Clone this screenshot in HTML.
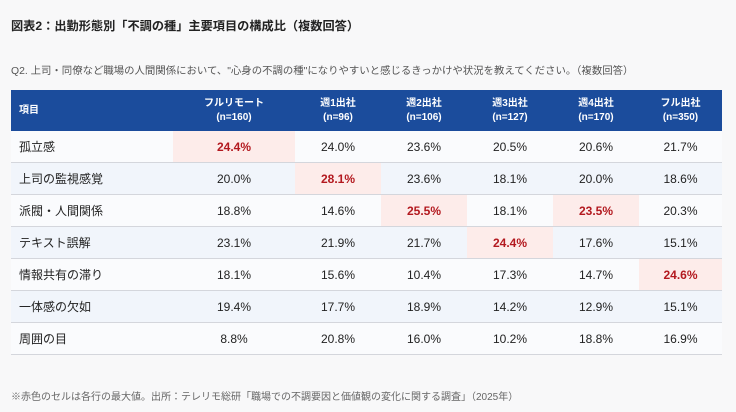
<!DOCTYPE html>
<html><head><meta charset="utf-8">
<style>
body{margin:0;width:736px;height:412px;background:#f8f8f9;font-family:"Liberation Sans","Noto Sans CJK JP",sans-serif;color:#222;overflow:hidden;position:relative}
.title{position:absolute;left:11px;top:16px;font-size:12.2px;font-weight:bold;color:#222}
.q{position:absolute;left:11px;top:62px;font-size:10.4px;color:#555}
table{position:absolute;left:11px;top:90px;border-collapse:collapse;width:711px;table-layout:fixed;font-size:12px}
th{background:#1b4c9c;color:#fff;font-size:10px;font-weight:bold;height:41px;line-height:14px;padding:0}
th.item{text-align:left;padding-left:8px}
td{height:31px;border-bottom:1px solid #d4d6dc;text-align:center;padding:0}
td.item{text-align:left;padding-left:8px}
tr:nth-child(odd) td{background:#fafbfd}
tr:nth-child(even) td{background:#f1f5fb}
td.max{background:#fdecea !important;color:#b3191f;font-weight:bold}
.note{position:absolute;left:11px;top:388px;font-size:10px;color:#666}
</style></head><body>
<div class="title">図表2：出勤形態別「不調の種」主要項目の構成比（複数回答）</div>
<div class="q">Q2. 上司・同僚など職場の人間関係において、"心身の不調の種"になりやすいと感じるきっかけや状況を教えてください。（複数回答）</div>
<table>
<colgroup><col style="width:162px"><col style="width:122px"><col style="width:86px"><col style="width:86px"><col style="width:86px"><col style="width:86px"><col style="width:83px"></colgroup>
<thead><tr></tr></thead>
<tbody id="tb"></tbody>
</table>
<div class="note">※赤色のセルは各行の最大値。出所：テレリモ総研「職場での不調要因と価値観の変化に関する調査」（2025年）</div>
<script>
const headers=["項目","フルリモート<br>(n=160)","週1出社<br>(n=96)","週2出社<br>(n=106)","週3出社<br>(n=127)","週4出社<br>(n=170)","フル出社<br>(n=350)"];
const items=["孤立感","上司の監視感覚","派閥・人間関係","テキスト誤解","情報共有の滞り","一体感の欠如","周囲の目"];
const values=[
[24.4,24.0,23.6,20.5,20.6,21.7],
[20.0,28.1,23.6,18.1,20.0,18.6],
[18.8,14.6,25.5,18.1,23.5,20.3],
[23.1,21.9,21.7,24.4,17.6,15.1],
[18.1,15.6,10.4,17.3,14.7,24.6],
[19.4,17.7,18.9,14.2,12.9,15.1],
[8.8,20.8,16.0,10.2,18.8,16.9]];
const highlight=[[0],[1],[2,4],[3],[5],[],[]];
const hr=document.querySelector('thead tr');
headers.forEach((h,i)=>{const th=document.createElement('th');th.innerHTML=h;if(i===0)th.className='item';


hr.appendChild(th);});
const tb=document.getElementById('tb');
items.forEach((it,r)=>{const tr=document.createElement('tr');


const td=document.createElement('td');td.className='item';td.textContent=it;


tr.appendChild(td);
values[r].forEach((v,c)=>{const cell=document.createElement('td');cell.textContent=v.toFixed(1)+'%';if(highlight[r].includes(c))cell.className='max';


tr.appendChild(cell);});
tb.appendChild(tr);});
</script>
</body></html>
